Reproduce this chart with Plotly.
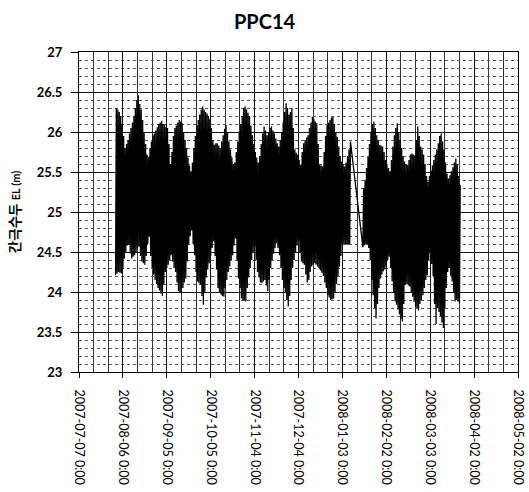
import pandas as pd
import plotly.graph_objects as go

# Daily high / low piezometric head (EL m)
seg1_start = "2007-08-01"
seg1_high = [
    26.30, 26.28, 26.25, 26.20, 26.10, 25.95, 25.80, 25.85, 25.90, 25.98,
    26.05, 26.12, 26.20, 26.30, 26.40, 26.46, 26.35, 26.28, 26.15, 26.00,
    25.85, 25.72, 25.69, 25.80, 25.88, 25.96, 25.98, 26.02, 26.06, 26.10,
    26.12, 26.14, 26.10, 26.09, 26.06, 26.05, 25.85, 25.60, 25.75, 25.95,
    26.05, 26.08, 26.12, 26.15, 26.13, 26.11, 26.00, 25.90, 25.80, 25.68,
    25.58, 25.51, 25.62, 25.80, 25.95, 26.08, 26.15, 26.22, 26.28, 26.32,
    26.28, 26.25, 26.23, 26.20, 26.16, 26.05, 25.90, 25.84, 25.86, 25.86,
    25.83, 25.80, 25.88, 25.96, 26.04, 26.09, 26.00, 25.88, 25.78, 25.68,
    25.60, 25.62, 25.75, 25.88, 26.00, 26.10, 26.20, 26.30, 26.32, 26.28,
    26.24, 26.20, 26.08, 25.96, 25.85, 25.75, 25.68, 25.62, 25.70, 25.85,
    25.98, 26.07, 26.02, 25.96, 26.00, 26.05, 26.07, 26.02, 25.98, 25.92,
    25.86, 25.82, 25.90, 26.00, 26.12, 26.25, 26.36, 26.30, 26.22, 26.25,
    26.30, 26.05, 25.78, 25.74, 25.72, 25.65, 25.59, 25.75, 25.86, 25.90,
    25.93, 25.96, 26.05, 26.12, 26.19, 26.16, 26.13, 26.11, 25.85, 25.59,
    25.58, 25.57, 25.75, 25.95, 26.09, 26.12, 26.15, 26.18, 26.19, 26.10,
    26.00, 25.94, 25.82, 25.70, 25.63, 25.60, 25.57, 25.62, 25.70, 25.78,
    25.88,
]
seg1_low = [
    24.21, 24.23, 24.25, 24.24, 24.23, 24.30, 24.42, 24.50, 24.58, 24.59,
    24.48, 24.42, 24.44, 24.46, 24.50, 24.55, 24.57, 24.45, 24.38, 24.36,
    24.34, 24.45, 24.60, 24.69, 24.45, 24.30, 24.22, 24.15, 24.10, 24.05,
    24.02, 23.98, 23.95, 24.10, 24.25, 24.30, 24.34, 24.40, 24.46, 24.38,
    24.30, 24.25, 24.12, 24.01, 24.00, 23.98, 24.05, 24.12, 24.17, 24.38,
    24.59, 24.70, 24.77, 24.60, 24.46, 24.25, 24.13, 24.11, 24.09, 23.95,
    23.84, 24.00, 24.18, 24.28, 24.36, 24.45, 24.55, 24.63, 24.45, 24.28,
    24.05, 24.00, 23.97, 23.95, 23.94, 24.05, 24.15, 24.25, 24.32, 24.40,
    24.46, 24.58, 24.67, 24.40, 24.17, 24.05, 23.92, 23.90, 23.89, 23.88,
    24.05, 24.18, 24.30, 24.40, 24.50, 24.57, 24.40, 24.25, 24.18, 24.12,
    24.11, 24.13, 24.15, 24.08, 24.01, 24.15, 24.30, 24.40, 24.48, 24.55,
    24.61, 24.55, 24.46, 24.30, 24.15, 24.05, 24.00, 23.90, 23.82, 23.95,
    24.15, 24.30, 24.40, 24.50, 24.58, 24.63, 24.50, 24.38, 24.36, 24.34,
    24.22, 24.12, 24.15, 24.25, 24.32, 24.34, 24.36, 24.34, 24.32, 24.30,
    24.27, 24.24, 24.20, 24.12, 24.05, 23.96, 23.93, 23.90, 23.91, 23.92,
    24.00, 24.10, 24.20, 24.32, 24.45, 24.59, 24.60, 24.60, 24.59, 24.59,
    24.60,
]
seg2_start = "2008-01-17"
seg2_high = [
    25.30, 25.40, 25.55, 25.69, 25.85, 26.00, 26.10, 26.13, 26.05, 25.96,
    25.90, 25.84, 25.83, 25.82, 25.75, 25.65, 25.58, 25.55, 25.51, 25.65,
    25.82, 25.96, 26.05, 26.11, 26.00, 25.90, 25.80, 25.70, 25.63, 25.60,
    25.59, 25.65, 25.72, 25.73, 25.72, 25.71, 25.90, 26.07, 25.95, 25.82,
    25.78, 25.72, 25.60, 25.45, 25.38, 25.45, 25.52, 25.58, 25.65, 25.72,
    25.78, 25.86, 25.95, 25.98, 25.88, 25.78, 25.62, 25.48, 25.42, 25.46,
    25.51, 25.56, 25.62, 25.67, 25.60, 25.45, 25.34,
]
seg2_low = [
    24.56, 24.58, 24.59, 24.59, 24.55, 24.40, 24.15, 23.96, 23.80, 23.67,
    23.85, 24.05, 24.17, 24.22, 24.26, 24.28, 24.32, 24.40, 24.44, 24.30,
    24.13, 24.00, 23.88, 23.84, 23.78, 23.72, 23.66, 23.63, 23.85, 24.09,
    24.10, 24.08, 24.07, 24.00, 23.94, 23.88, 23.82, 23.80, 23.77, 23.85,
    23.90, 23.96, 24.05, 24.15, 24.21, 24.40, 24.50, 24.35, 24.20, 23.85,
    23.60, 23.80, 23.75, 23.70, 23.62, 23.55, 23.80, 24.05, 24.25, 24.30,
    24.20, 24.13, 24.00, 23.88, 23.90, 23.88, 23.86,
]

x_range = ["2007-07-07", "2008-05-02"]
y_range = [23, 27]


def zigzag(start, lows, highs):
    days = pd.date_range(start, periods=len(lows), freq="D")
    xs, ys = [], []
    for d, lo, hi in zip(days, lows, highs):
        xs += [d, d + pd.Timedelta(hours=12)]
        ys += [lo, hi]
    return xs, ys


x1, y1 = zigzag(seg1_start, seg1_low, seg1_high)
x2, y2 = zigzag(seg2_start, seg2_low, seg2_high)

fig = go.Figure(go.Scatter(x=x1 + x2, y=y1 + y2, mode="lines",
                           line=dict(color="black", width=1.3),
                           showlegend=False, hoverinfo="skip"))

FONT = "Lato, 'Noto Sans CJK KR', sans-serif"
DAY = 86400000

fig.update_layout(
    width=529, height=492,
    margin=dict(l=79, r=11, t=52, b=120),
    paper_bgcolor="white", plot_bgcolor="white",
    font=dict(family=FONT, color="black"),
    title=dict(text="<b>PPC14</b>", x=0.5, xanchor="center", y=0.955,
               yanchor="middle", font=dict(size=20, family=FONT)),
    xaxis=dict(
        type="date", range=x_range, tick0="2007-07-07", dtick=30 * DAY,
        tickformat="%Y-%m-%d %-H:%M", tickangle=90,
        tickfont=dict(size=12.5, family=FONT),
        ticks="outside", ticklen=5, tickcolor="black",
        showline=True, linecolor="black", linewidth=1, mirror=True,
        showgrid=True, gridcolor="#111", gridwidth=1,
        minor=dict(dtick=10 * DAY, tick0="2007-07-07", showgrid=True,
                   gridcolor="#333", gridwidth=1),
        ticklabelstandoff=9, automargin=False,
    ),
    yaxis=dict(
        range=y_range, dtick=0.5, tick0=23,
        tickfont=dict(size=13, family=FONT, weight="bold"),
        ticks="outside", ticklen=7, tickcolor="black",
        showline=True, linecolor="black", linewidth=1, mirror=True,
        showgrid=True, gridcolor="#111", gridwidth=1.2,
        minor=dict(dtick=0.1, showgrid=True, gridcolor="#555",
                   gridwidth=1, griddash="dot"),
        ticklabelstandoff=6, automargin=False,
        title=dict(text="<b>간극수두 <span style='font-size:11px'>EL (m)</span></b>",
                   font=dict(size=13.5, family=FONT), standoff=12),
        zeroline=False,
    ),
)

fig.write_html("out.html")
